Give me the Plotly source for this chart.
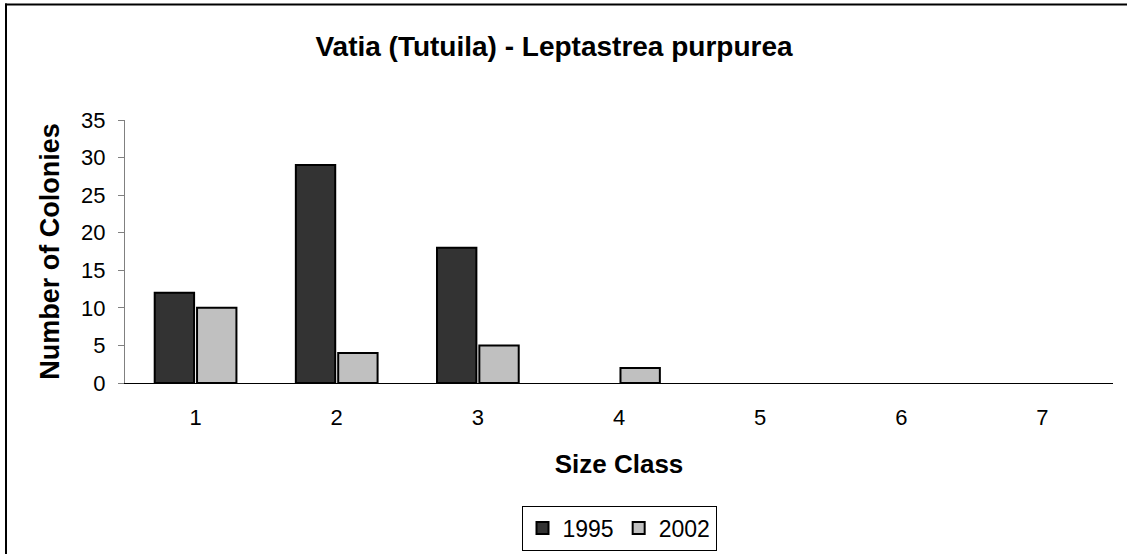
import plotly.graph_objects as go

size_classes = ["1", "2", "3", "4", "5", "6", "7"]
colonies_1995 = [12, 29, 18, 0, 0, 0, 0]
colonies_2002 = [10, 4, 5, 2, 0, 0, 0]
y_ticks = [0, 5, 10, 15, 20, 25, 30, 35]

W, H = 1127, 554
L, R, T, B = 125, 14, 120, 171
pw, ph = W - L - R, H - T - B

def px_x(x):
    return (x - L) / pw

def px_y(y):
    return (H - B - y) / ph

def outline_widths(values):
    # hide the outline of empty (zero) bars, as in the reference
    return [2 if v > 0 else 0 for v in values]

font = "Liberation Sans, Arial, sans-serif"

fig = go.Figure()
fig.add_trace(go.Bar(x=size_classes, y=colonies_1995, name="1995",
                     marker=dict(color="#333333",
                                 line=dict(color="#000000", width=outline_widths(colonies_1995)))))
fig.add_trace(go.Bar(x=size_classes, y=colonies_2002, name="2002",
                     marker=dict(color="#C0C0C0",
                                 line=dict(color="#000000", width=outline_widths(colonies_2002)))))

border = dict(color="#000000", width=2)
fig.update_layout(
    width=W, height=H,
    margin=dict(l=L, r=R, t=T, b=B, autoexpand=False),
    paper_bgcolor="white", plot_bgcolor="white",
    font=dict(family=font, color="#000000"),
    title=dict(text="<b>Vatia (Tutuila) - Leptastrea purpurea</b>",
               x=554 / W, xanchor="center", y=1 - 46 / H, yanchor="middle",
               font=dict(size=28, family=font)),
    barmode="group", bargap=0.4, bargroupgap=0.07,
    showlegend=True,
    legend=dict(orientation="h", x=0.5, xanchor="center", y=px_y(528), yanchor="middle",
                bordercolor="#000000", borderwidth=1, bgcolor="white",
                font=dict(size=23, family=font), itemwidth=30,
                traceorder="normal"),
    xaxis=dict(type="category", range=[-0.5, 6.5], showline=True, linecolor="#000000",
               linewidth=1, ticks="", showgrid=False, zeroline=False,
               tickfont=dict(size=22), ticklabelstandoff=15,
               title=dict(text="<b>Size Class</b>", font=dict(size=26), standoff=25)),
    yaxis=dict(range=[0, 35], tickvals=y_ticks, showline=True, linecolor="#808080",
               linewidth=1, ticks="outside", ticklen=6, tickcolor="#808080",
               showgrid=False, zeroline=False, tickfont=dict(size=22),
               ticklabelstandoff=8,
               title=dict(text="<b>Number of Colonies</b>", font=dict(size=27), standoff=13)),
    shapes=[
        dict(type="line", xref="paper", yref="paper",
             x0=px_x(5), x1=px_x(1127), y0=px_y(4.5), y1=px_y(4.5), line=border),
        dict(type="line", xref="paper", yref="paper",
             x0=px_x(6), x1=px_x(6), y0=px_y(3.5), y1=px_y(554), line=border),
    ],
)

fig.write_html("out.html", config={"displayModeBar": False},
               post_script="document.body.style.margin='0';document.body.style.overflow='hidden';")
